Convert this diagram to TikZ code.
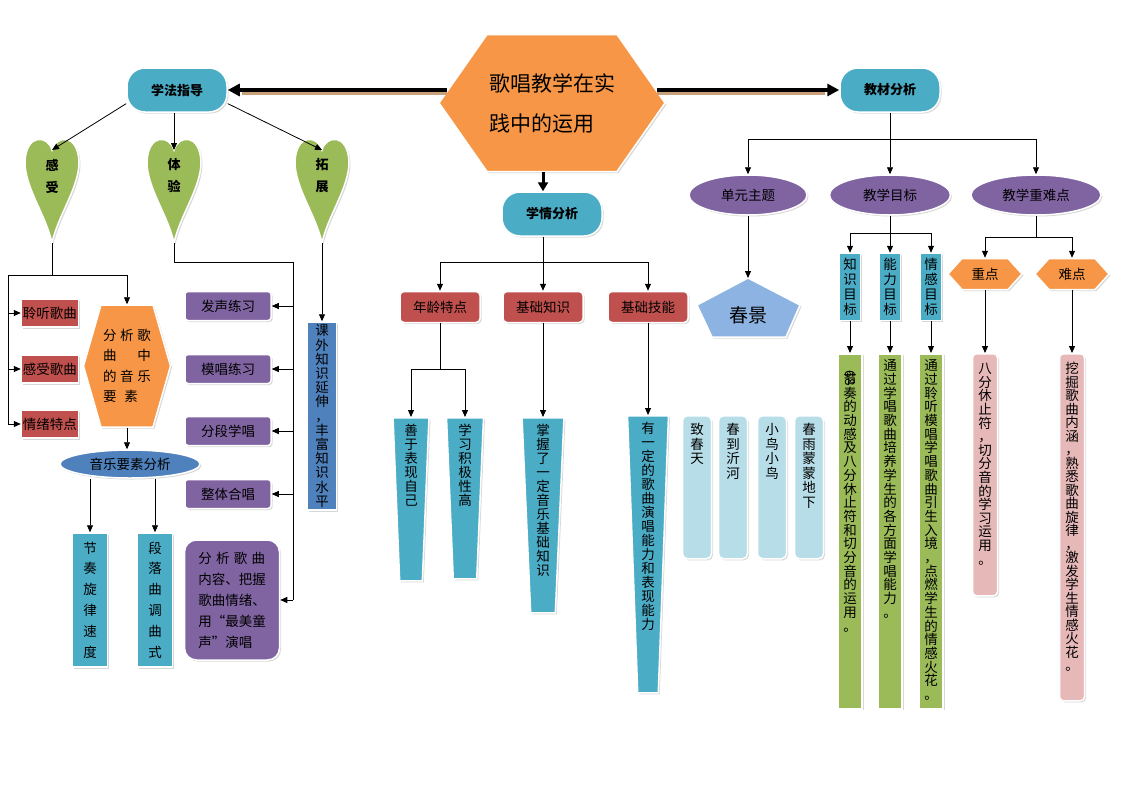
\documentclass[tikz,border=0pt]{standalone}
\usepackage{fontspec}
\setmainfont{Noto Sans CJK SC}
\usepackage{graphicx}
\usepackage{tikz}
\usetikzlibrary{shapes.geometric}
\usetikzlibrary{shapes.symbols}
\usetikzlibrary{shadows}
\usetikzlibrary{arrows.meta}

\definecolor{qing}{HTML}{4BACC6}
\definecolor{lv}{HTML}{9BBB59}
\definecolor{cheng}{HTML}{F79646}
\definecolor{hong}{HTML}{C0504D}
\definecolor{zi}{HTML}{8064A2}
\definecolor{lan}{HTML}{4F81BD}
\definecolor{qianlan}{HTML}{8DB3E2}
\definecolor{dan}{HTML}{B7DEE8}
\definecolor{fen}{HTML}{E6B9B8}
\definecolor{zong}{HTML}{C8A07A}

% vertical text, one character per row
\newcommand\shu[2][14pt]{\vtop{\baselineskip=#1\relax\lineskiplimit=-50pt\shuA#2\relax}}
\def\shuA#1{\ifx\relax#1\else\hbox to 1em{\hss#1\hss}\expandafter\shuA\fi}

% heart shape
\newcommand\xin[2]{%
  \path[kuang, fill=lv] (#1,150) .. controls (#1+4,135) and (#1+26,133) .. (#1+27,162)
    .. controls (#1+27,188) and (#1+6,215) .. (#1,243)
    .. controls (#1-6,215) and (#1-27,188) .. (#1-27,162)
    .. controls (#1-26,133) and (#1-4,135) .. (#1,150) -- cycle;
  \coordinate (#2) at (#1,150);
  \coordinate (#2d) at (#1,243);}

\begin{document}
\begin{tikzpicture}[x=1pt, y=-1pt, line width=0.8pt,
  kuang/.style={draw=white, line width=1.5pt, drop shadow={shadow xshift=1.5pt, shadow yshift=-1.5pt, opacity=0.3}, inner sep=2pt, font=\fontsize{13.5}{15}\selectfont},
  lanbiao/.style={kuang, fill=qing, rounded corners=18pt, minimum width=100pt, minimum height=44pt, font=\bfseries\fontsize{13}{15}\selectfont},
  xinzi/.style={align=center, font=\bfseries\fontsize{13}{22}\selectfont},
  hongkuang/.style={kuang, fill=hong, minimum width=57pt, minimum height=28pt, inner sep=0pt},
  zikuang/.style={kuang, fill=zi, rounded corners=3pt, minimum width=86pt, minimum height=29pt},
  hongyuan/.style={kuang, fill=hong, rounded corners=4pt, minimum width=80pt, minimum height=31pt},
  tuoyuan/.style={kuang, ellipse, fill=zi, minimum height=40pt},
  liubian/.style={kuang, signal, signal to=west and east, fill=cheng},
  tixing/.style={kuang, trapezium, trapezium angle=88, shape border rotate=180, trapezium stretches=true, fill=qing, inner xsep=3pt, inner ysep=8pt, text height=10pt, anchor=north},
  gequbox/.style={kuang, fill=dan, rounded corners=5pt, minimum width=29pt, inner xsep=0pt, inner ysep=9pt, text height=10pt, text depth=115pt, anchor=north},
  lvtiao/.style={kuang, fill=lv, minimum width=24pt, inner xsep=0pt, inner ysep=7pt, text height=10pt, text depth=331pt, anchor=north},
  fentiao/.style={kuang, fill=fen, rounded corners=4pt, minimum width=25pt, inner xsep=0pt, inner ysep=10pt, text height=10pt, anchor=north},
  jian/.style={-{Triangle[length=7pt,width=6pt]}, line width=0.8pt},
  cujian/.style={-{Triangle[length=12pt,width=12pt]}, line width=4pt}]
\useasboundingbox (0,0) rectangle (1122,793);
\fill[white] (0,0) rectangle (1122,793);

% centre and the three heads
\node[liubian, signal pointer angle=110, minimum width=217pt, minimum height=137pt, align=left, font=\fontsize{21}{40}\selectfont] (zhuti) at (552,103) {歌唱教学在实\\践中的运用};
\node[lanbiao] (xuefa) at (177,90) {学法指导};
\node[lanbiao] (jiaocai) at (890,90) {教材分析};
\node[lanbiao] (xueqing) at (552,214) {学情分析};

\coordinate (zl) at (zhuti.west |- xuefa.east);
\coordinate (zr) at (zhuti.east |- jiaocai.west);
\draw[line width=4pt, zong] ([xshift=9pt, yshift=-2.5pt]zl) -- ([xshift=14pt, yshift=-2.5pt]xuefa.east);
\draw[cujian] ([xshift=9pt]zl) -- (xuefa.east);
\draw[line width=4pt, zong] ([xshift=-9pt, yshift=-2.5pt]zr) -- ([xshift=-14pt, yshift=-2.5pt]jiaocai.west);
\draw[cujian] ([xshift=-9pt]zr) -- (jiaocai.west);
\draw[-{Triangle[length=9pt,width=10pt]}, line width=3pt] ([xshift=-9pt]zhuti.south) -- ([xshift=-9pt]xueqing.north);

% xuefa zhidao
\xin{52}{gan}
\xin{174}{ti}
\xin{322}{tuo}
\node[xinzi] (ganzi) at (52,176) {感\\受};
\node[xinzi] (tizi) at (174,176) {体\\验};
\node[xinzi] (tuozi) at (322,176) {拓\\展};
\draw[jian] (xuefa.195) -- (gan);
\draw[jian] (xuefa.south -| ti) -- (ti);
\draw[jian] (xuefa.345) -- (tuo);

\node[hongkuang] (lingting) at (50,313) {聆听歌曲};
\node[hongkuang] (ganshou) at (50,369) {感受歌曲};
\node[hongkuang] (qingxu) at (50,424) {情绪特点};
\node[liubian, signal pointer angle=148, minimum width=73pt, minimum height=122pt, align=left, font=\fontsize{13.5}{20.5}\selectfont] (fenxi) at (127,366) {\hbox to 48pt{分\hfill 析\hfill 歌}\\\hbox to 48pt{曲\hfill 中}\\\hbox to 48pt{的\hfill 音\hfill 乐}\\\hbox to 48pt{要\hspace{8pt}素\hfill}};
\coordinate (g1) at (52,275);
\coordinate (g2) at (8,275);
\draw (gand) -- (g1);
\draw[jian] (g1) -| (fenxi.north);
\draw (g1) -- (g2);
\draw[jian] (g2) |- (lingting.west);
\draw[jian] (g2) |- (ganshou.west);
\draw[jian] (g2) |- (qingxu.west);

\node[kuang, ellipse, fill=lan, minimum width=140pt, minimum height=28pt] (yinyue) at (130,464) {音乐要素分析};
\draw[jian] (fenxi.south) -- (fenxi.south |- yinyue.north);
\node[kuang, fill=qing, minimum width=35pt, minimum height=134pt] (jiezou) at (90,600) {\shu[20.8pt]{节奏旋律速度}};
\node[kuang, fill=qing, minimum width=35pt, minimum height=134pt] (duanluo) at (155,600) {\shu[20.8pt]{段落曲调曲式}};
\draw[jian] (jiezou.north |- yinyue.south) -- (jiezou.north);
\draw[jian] (duanluo.north |- yinyue.south) -- (duanluo.north);

\node[zikuang] (fasheng) at (228,306) {发声练习};
\node[zikuang] (mochang) at (228,369) {模唱练习};
\node[zikuang] (fenduan) at (228,431) {分段学唱};
\node[zikuang] (zhengti) at (228,494) {整体合唱};
\node[kuang, fill=zi, rounded corners=12pt, minimum width=95pt, minimum height=120pt, align=left, font=\fontsize{13.5}{21}\selectfont] (dahe) at (232,600) {\hbox to 67pt{分\hfill 析\hfill 歌\hfill 曲}\\内容、把握\\歌曲情绪、\\用“最美童\\声”演唱};
\coordinate (t1) at (293,262);
\draw (tid) |- (t1) -- (t1 |- dahe.east);
\draw[jian] (t1 |- fasheng.east) -- (fasheng.east);
\draw[jian] (t1 |- mochang.east) -- (mochang.east);
\draw[jian] (t1 |- fenduan.east) -- (fenduan.east);
\draw[jian] (t1 |- zhengti.east) -- (zhengti.east);
\draw[jian] (t1 |- dahe.east) -- (dahe.east);

\node[kuang, fill=lan, minimum width=29pt, minimum height=188pt] (kewai) at (322,416) {\shu[14.2pt]{课外知识延伸，丰富知识水平}};
\draw[jian] (tuod) -- (tuod |- kewai.north);

% xueqing fenxi
\node[hongyuan] (nianling) at (440,307) {年龄特点};
\node[hongyuan] (jichu) at (543,307) {基础知识};
\node[hongyuan] (jineng) at (648,307) {基础技能};
\coordinate (q1) at (543,262);
\draw (q1 |- xueqing.south) -- (q1);
\draw[jian] (q1) -| (nianling.north);
\draw[jian] (q1) -- (jichu.north);
\draw[jian] (q1) -| (jineng.north);

\node[tixing, minimum width=36pt, minimum height=163pt, text depth=137pt] (shanyu) at (411,417) {\shu{善于表现自己}};
\node[tixing, minimum width=37pt, minimum height=161pt, text depth=135pt] (xuexi) at (465,417) {\shu{学习积极性高}};
\node[tixing, minimum width=42pt, minimum height=195pt, text depth=169pt] (zhangwo) at (543,417) {\shu{掌握了一定音乐基础知识}};
\node[tixing, minimum width=41pt, minimum height=277pt, text depth=251pt] (youyiding) at (648,415) {\shu{有一定的歌曲演唱能力和表现能力}};
\coordinate (a1) at (440,369);
\draw (nianling.south) -- (a1);
\draw[jian] (a1) -| (shanyu.north);
\draw[jian] (a1) -| (xuexi.north);
\draw[jian] (jichu.south) -- (zhangwo.north);
\draw[jian] (jineng.south) -- (youyiding.north);

% jiaocai fenxi
\node[tuoyuan, minimum width=118pt] (danyuan) at (748,195) {单元主题};
\node[tuoyuan, minimum width=121pt] (mubiao) at (890,195) {教学目标};
\node[tuoyuan, minimum width=130pt] (zhongnan) at (1036,195) {教学重难点};
\coordinate (j1) at (890,139);
\draw (jiaocai.south) -- (j1);
\draw[jian] (j1) -| (danyuan.north);
\draw[jian] (j1) -- (mubiao.north);
\draw[jian] (j1) -| (zhongnan.north);

\path[kuang, fill=qianlan] (748,278) -- (800,305) -- (786,337) -- (712,337) -- (697,305) -- cycle;
\node[font=\fontsize{19}{20}\selectfont] (chunjing) at (748,315) {春景};
\coordinate (cjding) at (748,278);
\draw[jian] (danyuan.south) -- (cjding);

\node[gequbox] (zhichuntian) at (697,415) {\shu[14.5pt]{致春天}};
\node[gequbox] (chundao) at (733,415) {\shu[14.5pt]{春到沂河}};
\node[gequbox] (xiaoniao) at (772,415) {\shu[14.5pt]{小鸟小鸟}};
\node[gequbox] (chunyu) at (809,415) {\shu[14.5pt]{春雨蒙蒙地下}};

\node[kuang, fill=qing, minimum width=21pt, minimum height=67pt, inner sep=0pt] (zhishi) at (850,287) {\shu[15pt]{知识目标}};
\node[kuang, fill=qing, minimum width=21pt, minimum height=67pt, inner sep=0pt] (nengli) at (890,287) {\shu[15pt]{能力目标}};
\node[kuang, fill=qing, minimum width=21pt, minimum height=67pt, inner sep=0pt] (qinggan) at (931,287) {\shu[15pt]{情感目标}};
\coordinate (m1) at (890,233);
\draw (mubiao.south) -- (m1);
\draw[jian] (m1) -| (zhishi.north);
\draw[jian] (m1) -- (nengli.north);
\draw[jian] (m1) -| (qinggan.north);

\node[lvtiao] (zsmb) at (850,353) {\shu[13.7pt]{{\rotatebox{-90}{68}}节奏的动感及八分休止符和切分音的运用。}};
\node[lvtiao] (nlmb) at (890,353) {\shu[13.7pt]{通过学唱歌曲培养学生的各方面学唱能力。}};
\node[lvtiao] (qgmb) at (931,353) {\shu[13.7pt]{通过聆听模唱学唱歌曲引生入境，点燃学生的情感火花。}};
\draw[jian] (zhishi.south) -- (zsmb.north);
\draw[jian] (nengli.south) -- (nlmb.north);
\draw[jian] (qinggan.south) -- (qgmb.north);

\node[liubian, signal pointer angle=96, minimum width=74pt, minimum height=31pt] (zhongdian) at (985,274) {重点};
\node[liubian, signal pointer angle=96, minimum width=74pt, minimum height=31pt] (nandian) at (1072,274) {难点};
\coordinate (n1) at (1036,237);
\draw (zhongnan.south) -- (n1);
\draw[jian] (n1) -| (zhongdian.north);
\draw[jian] (n1) -| (nandian.north);
\node[fentiao, text depth=212pt] (zdbar) at (985,353) {\shu[13.6pt]{八分休止符，切分音的学习运用。}};
\node[fentiao, text depth=317pt] (ndbar) at (1072,353) {\shu[13.5pt]{挖掘歌曲内涵，熟悉歌曲旋律，激发学生情感火花。}};
\draw[jian] (zhongdian.south) -- (zdbar.north);
\draw[jian] (nandian.south) -- (ndbar.north);
\end{tikzpicture}
\end{document}
